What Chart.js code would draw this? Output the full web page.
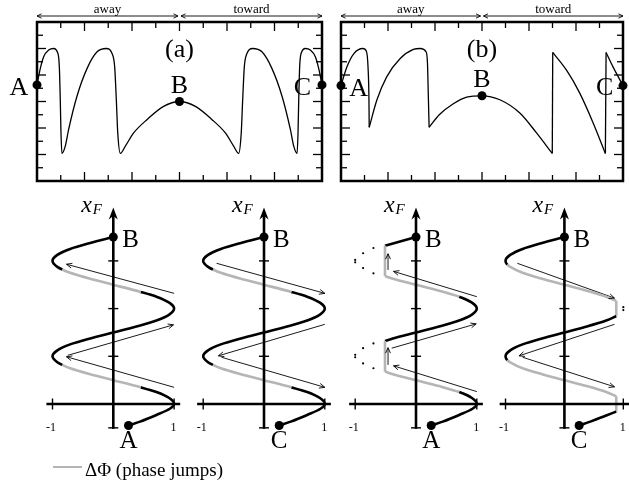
<!doctype html>
<html lang="en">
<head>
  <meta charset="utf-8">
  <title>xF phase jumps</title>
  <script src="https://cdn.jsdelivr.net/npm/chart.js@4.4.0/dist/chart.umd.min.js"></script>
  <style>
    body { margin: 0; background: #fff; }
    #wrap { position: relative; width: 629px; height: 495px; }
    #wrap canvas { position: absolute; left: 0; top: 0; }
  </style>
</head>
<body>
  <div id="wrap">
    <canvas id="topA" width="629" height="495"></canvas>
    <canvas id="topB" width="629" height="495"></canvas>
    <canvas id="p1" width="629" height="495"></canvas>
    <canvas id="p2" width="629" height="495"></canvas>
    <canvas id="p3" width="629" height="495"></canvas>
    <canvas id="p4" width="629" height="495"></canvas>
  </div>

  <script>
    // ---- top panels, frame units (12 x 12 ticks) ----
    var frameTicks = [1, 2, 3, 4, 5, 6, 7, 8, 9, 10, 11];
    var spanEdges = [0, 6, 12];
    var spanLabels = ['away', 'toward'];

    // (a)
    var aX = [0, 0.14, 0.28, 0.49, 0.70, 0.87, 0.94, 0.98, 1.01, 1.05, 1.19, 1.33, 1.68, 2.11, 2.53, 2.92, 3.16, 3.27, 3.34, 3.40, 3.51, 3.72, 4.07, 4.63, 5.33, 6.0,
              6.67, 7.37, 7.93, 8.28, 8.49, 8.60, 8.66, 8.73, 8.84, 9.08, 9.47, 9.89, 10.32, 10.67, 10.81, 10.95, 10.99, 11.02, 11.06, 11.13, 11.30, 11.51, 11.72, 11.86, 12];
    var aY = [7.25, 8.5, 9.38, 9.88, 10.0, 9.68, 8.63, 6.13, 3.63, 2.08, 2.63, 3.88, 6.38, 8.5, 9.75, 10.0, 9.63, 8.63, 6.13, 3.63, 2.08, 2.63, 3.63, 4.63, 5.63, 6.0,
              5.63, 4.63, 3.63, 2.63, 2.08, 3.63, 6.13, 8.63, 9.63, 10.0, 9.75, 8.5, 6.38, 3.88, 2.63, 2.08, 3.63, 6.13, 8.63, 9.68, 10.0, 9.88, 9.38, 8.5, 7.25];
    var aDotX = [0, 6, 12];
    var aDotY = [7.25, 6.0, 7.25];

    // (b)
    var bX = [0, 0.25, 0.54, 0.93, 1.08, 1.15, 1.19, 1.20, 1.53, 1.95, 2.52, 3.08, 3.37, 3.62, 3.68, 3.72, 3.75, 4.18, 4.78, 5.35, 6.0,
              6.76, 7.61, 8.32, 8.99, 9.01, 9.59, 10.16, 10.73, 11.25, 11.28, 11.57, 12];
    var bY = [7.2, 8.6, 9.6, 10, 9.8, 8.6, 6.1, 4.05, 6.13, 7.88, 9.25, 9.93, 10, 9.75, 8.88, 6.13, 4.05, 5.0, 5.83, 6.33, 6.43,
              6.13, 5.13, 3.63, 2.08, 9.7, 8.38, 6.63, 4.38, 2.08, 9.7, 8.63, 7.2];
    var bBreaks = [7, 16, 24, 25, 29, 30];
    var bDotX = [0, 6, 12];
    var bDotY = [7.2, 6.43, 7.2];

    // ---- bottom panels: horizontal value vs xF (vertical) ----
    var fTicks = [-0.5, 1, 2, 3];
    var xTicks = [-1, 1];
    var endDotX = [0, 0.25];
    var endDotF = [3.5, -0.45];

    // panels 1 and 2 (full S curve)
    var sF = [-0.45, -0.37, -0.23, -0.10, 0, 0.125, 0.25, 0.35, 0.5, 0.625, 0.75, 0.82, 0.875, 1, 1.125, 1.25, 1.375, 1.5,
              1.625, 1.75, 1.875, 2, 2.125, 2.25, 2.35, 2.5, 2.625, 2.75, 2.82, 2.875, 3, 3.125, 3.25, 3.375, 3.5];
    var sX = [0.25, 0.44, 0.71, 0.93, 1, 0.92, 0.71, 0.45, 0, -0.38, -0.71, -0.84, -0.92, -1, -0.92, -0.71, -0.38, 0,
              0.38, 0.71, 0.92, 1, 0.92, 0.71, 0.45, 0, -0.38, -0.71, -0.84, -0.92, -1, -0.92, -0.71, -0.38, 0];
    var sGray = [[0.35, 0.82], [2.35, 2.82]];

    // panel 3 (jumps on the left)
    var cF = [-0.45, -0.37, -0.23, -0.10, 0, 0.125, 0.25, 0.375, 0.5, 0.625, 0.68, 1.32, 1.375, 1.5, 1.625, 1.75, 1.875, 2,
              2.125, 2.25, 2.375, 2.5, 2.625, 2.68, 3.32, 3.5];
    var cX = [0.25, 0.44, 0.71, 0.93, 1, 0.92, 0.71, 0.38, 0, -0.38, -0.51, -0.51, -0.38, 0, 0.38, 0.71, 0.92, 1,
              0.92, 0.71, 0.38, 0, -0.38, -0.51, -0.51, 0];
    var cBreaks = [10, 11, 23, 24];
    var cGray = [[0.25, 1.32], [2.25, 3.32]];
    var cDotF = [3.27, 3.16, 3.02, 2.97, 2.85, 2.74, 1.27, 1.17, 1.03, 0.98, 0.85, 0.75];
    var cDotX = [-0.70, -0.87, -1.0, -1.0, -0.87, -0.70, -0.70, -0.87, -1.0, -1.0, -0.87, -0.70];

    // panel 4 (jumps on the right)
    var dF = [-0.45, -0.37, -0.24, -0.16, 0.16, 0.25, 0.375, 0.5, 0.625, 0.75, 0.875, 0.92, 1, 1.125, 1.25, 1.375, 1.5,
              1.625, 1.75, 1.84, 2.16, 2.25, 2.375, 2.5, 2.625, 2.75, 2.875, 2.92, 3, 3.125, 3.25, 3.375, 3.5];
    var dX = [0.25, 0.44, 0.71, 0.88, 0.88, 0.71, 0.38, 0, -0.38, -0.71, -0.92, -0.97, -1, -0.92, -0.71, -0.38, 0,
              0.38, 0.71, 0.88, 0.88, 0.71, 0.38, 0, -0.38, -0.71, -0.92, -0.97, -1, -0.92, -0.71, -0.38, 0];
    var dBreaks = [3, 4, 19, 20];
    var dGray = [[-0.16, 0.92], [1.84, 2.92]];
    var dDotF = [2.03, 1.97];
    var dDotX = [1.0, 1.0];

    // thin arrows [x0, f0, x1, f1], head at the second point
    var p1Arrows = [[1.0, 2.32, -0.77, 2.93], [-0.75, 1.02, 0.99, 1.66], [1.0, 0.35, -0.77, 0.99]];
    var p2Arrows = [[-0.78, 2.95, 1.0, 2.32], [1.0, 1.67, -0.75, 1.01], [-0.70, 0.98, 1.0, 0.35]];
    var p3Arrows = [[1.0, 2.25, -0.37, 2.78], [-0.40, 1.17, 0.99, 1.68], [1.0, 0.26, -0.37, 0.80],
                    [-0.46, 2.81, -0.46, 3.15], [-0.46, 0.82, -0.46, 1.18]];
    var p4Arrows = [[-0.80, 2.95, 0.85, 2.22], [0.85, 1.67, -0.77, 1.01], [-0.71, 0.98, 0.85, 0.36]];

    var legendText = '\u0394\u03A6 (phase jumps)';

    var W = 629, H = 495;
    var SERIF = '"Liberation Serif", "DejaVu Serif", serif';
    var GRAY = '#b5b5b5';

    function pts(xs, ys) {
      return xs.map(function (x, i) { return { x: x, y: ys[i] }; });
    }

    function pieces(xs, ys, breaks) {
      var cuts = [0].concat(breaks, [xs.length - 1]);
      var out = [];
      for (var i = 0; i < cuts.length - 1; i++) {
        out.push(pts(xs.slice(cuts[i], cuts[i + 1] + 1), ys.slice(cuts[i], cuts[i + 1] + 1)));
      }
      return out;
    }

    function shade(ctx) {
      var ds = ctx.chart.data.datasets[ctx.datasetIndex];
      var f = ds.data[ctx.p0DataIndex].y;
      var g = (ds.gray || []).some(function (r) { return f >= r[0] - 1e-9 && f < r[1] - 1e-9; });
      return g ? GRAY : '#000';
    }

    function seg(c, x0, y0, x1, y1) {
      c.beginPath(); c.moveTo(x0, y0); c.lineTo(x1, y1); c.stroke();
    }

    function head(c, x, y, fx, fy, len, spread) {
      var ang = Math.atan2(y - fy, x - fx);
      c.beginPath();
      c.moveTo(x - len * Math.cos(ang - spread), y - len * Math.sin(ang - spread));
      c.lineTo(x, y);
      c.lineTo(x - len * Math.cos(ang + spread), y - len * Math.sin(ang + spread));
      c.stroke();
    }

    var decor = {
      id: 'decor',
      beforeDatasetsDraw: function (chart, args, o) {
        if (!o.frame) return;
        var c = chart.ctx, a = chart.chartArea;
        var px = function (v) { return chart.scales.x.getPixelForValue(v); };
        var py = function (v) { return chart.scales.y.getPixelForValue(v); };
        c.save();
        c.strokeStyle = '#000';
        c.lineWidth = 1.3;
        frameTicks.forEach(function (t) {
          var len = t % 2 === 0 ? 9 : 6;
          var x = px(t), y = py(t);
          seg(c, x, a.top, x, a.top + len);
          seg(c, x, a.bottom, x, a.bottom - len);
          seg(c, a.left, y, a.left + len, y);
          seg(c, a.right, y, a.right - len, y);
        });
        c.lineWidth = 2.5;
        c.strokeRect(a.left, a.top, a.right - a.left, a.bottom - a.top);
        // away / toward spans
        var ya = a.top - 6;
        c.lineWidth = 0.9;
        c.fillStyle = '#000';
        c.font = '13px ' + SERIF;
        c.textAlign = 'center';
        for (var i = 0; i < spanLabels.length; i++) {
          var x0 = px(spanEdges[i]) + (i > 0 ? 1.5 : 0);
          var x1 = px(spanEdges[i + 1]) - (i === 0 ? 1.5 : 0);
          seg(c, x0, ya, x1, ya);
          head(c, x0, ya, x1, ya, 5, 0.45);
          head(c, x1, ya, x0, ya, 5, 0.45);
          c.fillText(spanLabels[i], (x0 + x1) / 2, a.top - 9);
        }
        c.restore();
      },
      afterDatasetsDraw: function (chart, args, o) {
        var c = chart.ctx;
        var px = function (v) { return chart.scales.x.getPixelForValue(v); };
        var py = function (v) { return chart.scales.y.getPixelForValue(v); };
        c.save();
        c.strokeStyle = '#000';
        c.fillStyle = '#000';

        // arrow heads on thin arrows
        chart.data.datasets.forEach(function (ds, i) {
          if (!ds.arrow) return;
          var p = chart.getDatasetMeta(i).data;
          c.lineWidth = 0.9;
          head(c, p[1].x, p[1].y, p[0].x, p[0].y, 6, 0.42);
        });

        // coordinate axes of the lower panels
        if (o.axes) {
          var ax = px(0), ay = py(0);
          var tipY = py(4.12);
          c.lineWidth = 2.6;
          seg(c, ax, py(-0.5) + 1, ax, tipY + 8);
          seg(c, px(-1.1), ay, px(1.1), ay);
          c.beginPath();
          c.moveTo(ax, tipY);
          c.lineTo(ax + 4.5, tipY + 12);
          c.lineTo(ax, tipY + 8.5);
          c.lineTo(ax - 4.5, tipY + 12);
          c.closePath();
          c.fill();
          c.lineWidth = 1.4;
          fTicks.forEach(function (t) { seg(c, ax - 5, py(t), ax + 5, py(t)); });
          xTicks.forEach(function (t) { seg(c, px(t), ay - 5.5, px(t), ay + 5.5); });
          c.font = '12px ' + SERIF;
          c.textAlign = 'center';
          xTicks.forEach(function (t) { c.fillText(String(t), px(t) - (t < 0 ? 1.5 : 0.5), py(-0.5) + 3.5); });
        }

        // text labels anchored at data points
        (o.labels || []).forEach(function (l) {
          c.font = l.font;
          c.textAlign = l.align || 'center';
          c.fillText(l.t, px(l.x) + (l.dx || 0), py(l.y) + (l.dy || 0));
        });

        if (o.legend) {
          c.strokeStyle = GRAY;
          c.lineWidth = 2;
          seg(c, 53, 467, 82, 467);
          c.font = '19px ' + SERIF;
          c.textAlign = 'left';
          c.fillText(legendText, 85, 475.5);
        }
        c.restore();
      }
    };

    function dotSet(xs, ys, r) {
      return {
        data: pts(xs, ys), showLine: false, pointRadius: r, pointBackgroundColor: '#000',
        pointBorderWidth: 0, clip: false
      };
    }

    function topChart(id, X, Y, breaks, dotX, dotY, box, labels) {
      var datasets = [dotSet(dotX, dotY, 4.5)];
      pieces(X, Y, breaks).forEach(function (p) {
        datasets.push({
          data: p, borderColor: '#000', borderWidth: 1.3, pointRadius: 0,
          cubicInterpolationMode: 'monotone', clip: false
        });
      });
      return new Chart(document.getElementById(id), {
        type: 'line',
        data: { datasets: datasets },
        options: {
          responsive: false, animation: false, events: [],
          layout: { padding: { left: box[0], top: box[1], right: W - box[2], bottom: H - box[3] } },
          scales: {
            x: { type: 'linear', min: 0, max: 12, display: false },
            y: { type: 'linear', min: 0, max: 12, display: false }
          },
          plugins: { legend: { display: false }, tooltip: { enabled: false }, decor: { frame: true, labels: labels } }
        },
        plugins: [decor]
      });
    }

    function panelChart(id, axisPx, xMax, X, F, breaks, gray, arrows, extraX, extraF, endName, legend) {
      var unitX = 60.8, unitF = 47.7, zeroY = 404;
      var xMin = -1.2, fMin = -0.6, fMax = 4.2;
      var datasets = [dotSet(endDotX, endDotF, 4.5)];
      if (extraX) datasets.push(dotSet(extraX, extraF, 1.1));
      pieces(X, F, breaks).forEach(function (p) {
        datasets.push({
          data: p, gray: gray, borderColor: '#000', borderWidth: 2.6, pointRadius: 0,
          cubicInterpolationMode: 'monotone', clip: false, segment: { borderColor: shade }
        });
      });
      arrows.forEach(function (a) {
        datasets.push({
          data: [{ x: a[0], y: a[1] }, { x: a[2], y: a[3] }], arrow: true,
          borderColor: '#000', borderWidth: 0.9, pointRadius: 0, clip: false
        });
      });
      var labels = [
        { t: 'B', x: 0, y: 3.5, dx: 9, dy: 10, align: 'left', font: '25px ' + SERIF },
        { t: endName, x: 0.25, y: -0.45, dx: 0, dy: 23, font: '25px ' + SERIF },
        { t: 'x', x: 0, y: 4.12, dx: -32, dy: 5, align: 'left', font: 'italic 24px ' + SERIF },
        { t: 'F', x: 0, y: 4.12, dx: -20.5, dy: 6.5, align: 'left', font: 'italic 15px ' + SERIF }
      ];
      return new Chart(document.getElementById(id), {
        type: 'line',
        data: { datasets: datasets },
        options: {
          responsive: false, animation: false, events: [], indexAxis: 'y',
          layout: {
            padding: {
              left: axisPx + xMin * unitX, top: zeroY - fMax * unitF,
              right: W - (axisPx + xMax * unitX), bottom: H - (zeroY - fMin * unitF)
            }
          },
          scales: {
            x: { type: 'linear', min: xMin, max: xMax, display: false },
            y: { type: 'linear', min: fMin, max: fMax, display: false }
          },
          plugins: {
            legend: { display: false }, tooltip: { enabled: false },
            decor: { axes: true, labels: labels, legend: legend }
          }
        },
        plugins: [decor]
      });
    }

    var big = '26px ' + SERIF;
    topChart('topA', aX, aY, [], aDotX, aDotY, [37, 22, 322, 181], [
      { t: '(a)', x: 6, y: 12, dy: 35, font: big },
      { t: 'B', x: 6, y: 6.0, dy: -9, font: big },
      { t: 'A', x: 0, y: 7.25, dx: -18, dy: 10, font: big },
      { t: 'C', x: 12, y: 7.25, dx: -19.5, dy: 10, font: big }
    ]);
    topChart('topB', bX, bY, bBreaks, bDotX, bDotY, [341, 22, 623, 181], [
      { t: '(b)', x: 6, y: 12, dy: 35, font: big },
      { t: 'B', x: 6, y: 6.43, dy: -8.5, font: big },
      { t: 'A', x: 0, y: 7.2, dx: 17.7, dy: 10, font: big },
      { t: 'C', x: 12, y: 7.2, dx: -18.3, dy: 9.4, font: big }
    ]);

    panelChart('p1', 113.3, 1.2, sX, sF, [], sGray, p1Arrows, null, null, 'A', true);
    panelChart('p2', 264, 1.2, sX, sF, [], sGray, p2Arrows, null, null, 'C', false);
    panelChart('p3', 416, 1.2, cX, cF, cBreaks, cGray, p3Arrows, cDotX, cDotF, 'A', false);
    panelChart('p4', 566.7, 1.02, dX, dF, dBreaks, dGray, p4Arrows, dDotX, dDotF, 'C', false);
  </script>
</body>
</html>
